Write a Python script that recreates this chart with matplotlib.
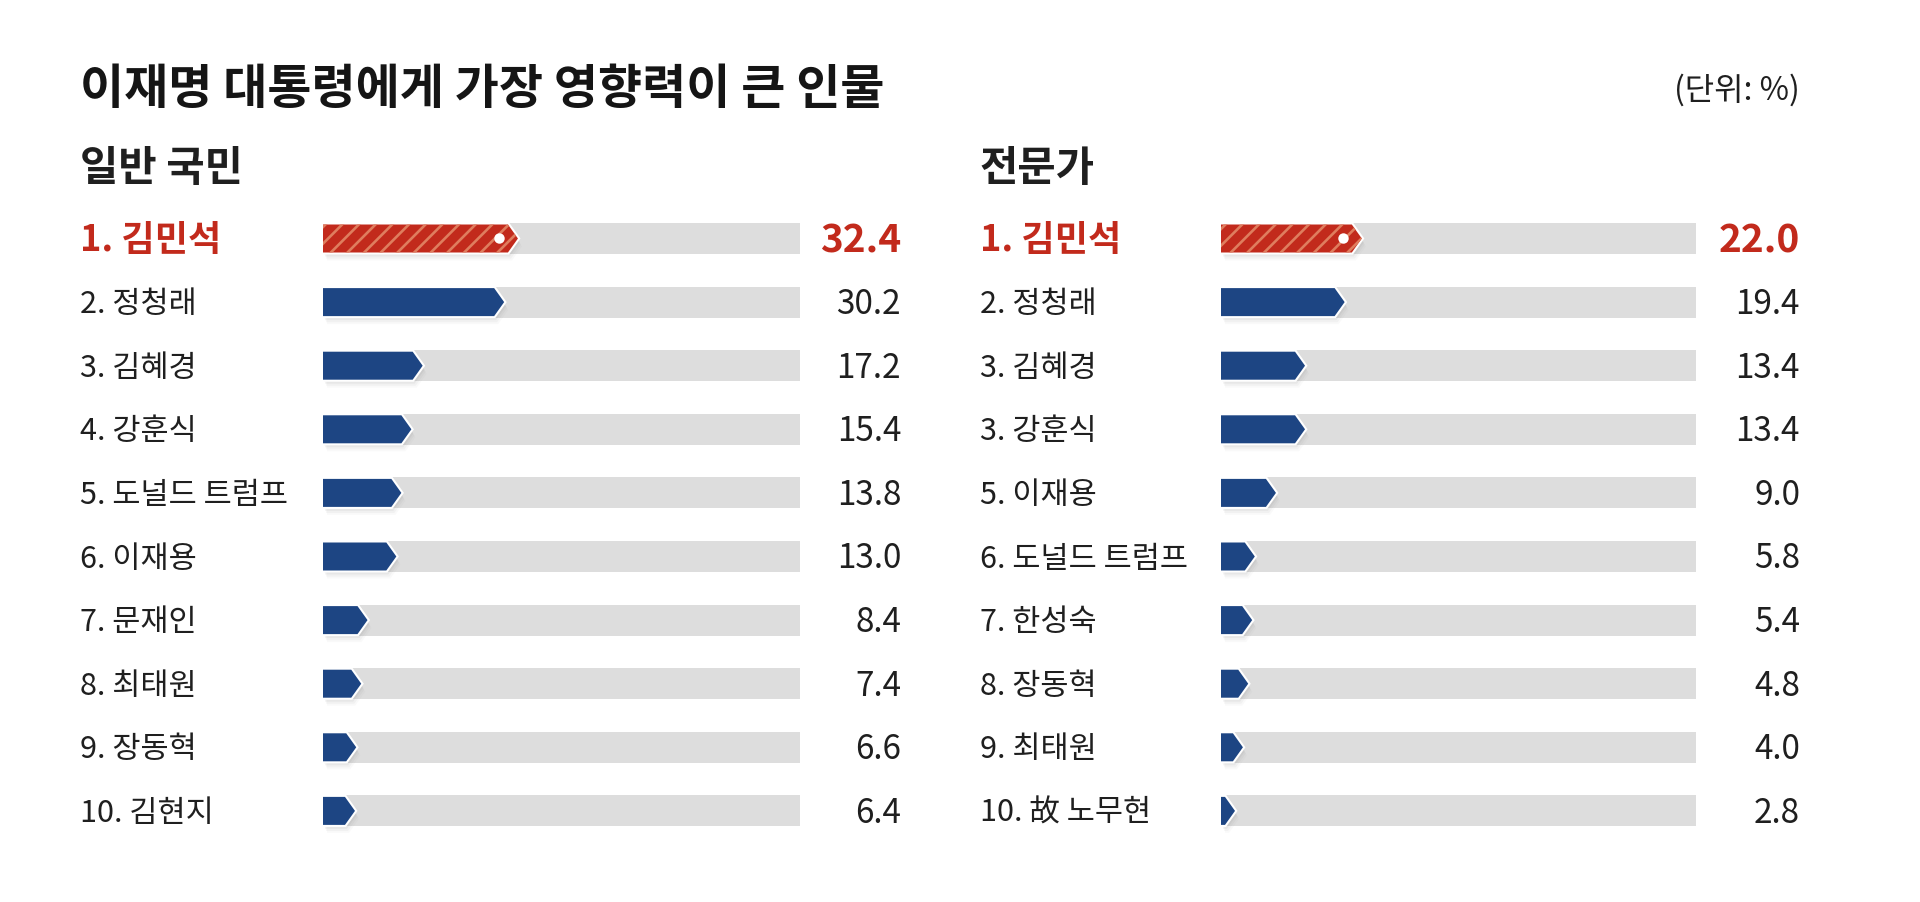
import matplotlib
matplotlib.use("Agg")
import matplotlib.pyplot as plt
from matplotlib.patches import Polygon
from matplotlib.transforms import ScaledTranslation, blended_transform_factory

plt.rcParams['font.family'] = ['Noto Sans CJK KR', 'DejaVu Sans']
plt.rcParams['hatch.linewidth'] = 1.9

# ---------------- data ----------------
title = "이재명 대통령에게 가장 영향력이 큰 인물"
unit_label = "(단위: %)"

left_title = "일반 국민"
left_ranks = ["1", "2", "3", "4", "5", "6", "7", "8", "9", "10"]
left_names = ["김민석", "정청래", "김혜경", "강훈식", "도널드 트럼프",
              "이재용", "문재인", "최태원", "장동혁", "김현지"]
left_values = [32.4, 30.2, 17.2, 15.4, 13.8, 13.0, 8.4, 7.4, 6.6, 6.4]

right_title = "전문가"
right_ranks = ["1", "2", "3", "3", "5", "6", "7", "8", "9", "10"]
right_names = ["김민석", "정청래", "김혜경", "강훈식", "이재용",
               "도널드 트럼프", "한성숙", "장동혁", "최태원", "故 노무현"]
right_values = [22.0, 19.4, 13.4, 13.4, 9.0, 5.8, 5.4, 4.8, 4.0, 2.8]

# ---------------- style ----------------
W, H = 1920, 902
RED = "#c22a1c"
STRIPE = "#df7d5e"
BLUE = "#1d4583"
GREY = "#dddddd"
TXT = "#1f1f1f"

fig = plt.figure(figsize=(W / 100, H / 100), dpi=100)
fig.patch.set_facecolor("white")

ROW0, ROWSTEP = 238.5, 63.6
ax_top = ROW0 - ROWSTEP / 2
ax_bot = ROW0 + 9 * ROWSTEP + ROWSTEP / 2
TXT_DY = 2.5 / ROWSTEP  # nudge text down a little


def make_axes(px_left, px_right, xmin, xmax):
    ax = fig.add_axes([px_left / W, 1 - ax_bot / H,
                       (px_right - px_left) / W, (ax_bot - ax_top) / H])
    ax.set_xlim(xmin, xmax)
    ax.set_ylim(9.5, -0.5)
    ax.axis("off")
    return ax


def draw_panel(ax, px_width, ranks, names, values, label_x, value_x, sub_title):
    xmin, xmax = ax.get_xlim()
    ppu = px_width / (xmax - xmin)          # pixels per data unit
    tip = 10 / ppu                           # arrow tip length
    grey_h = 31 / ROWSTEP
    bar_h = 28 / ROWSTEP
    tr = blended_transform_factory(fig.transFigure, ax.transData)

    rows = list(range(len(values)))
    ax.barh(rows, [xmax - xmin] * len(rows), left=xmin, height=grey_h,
            color=GREY, zorder=1)

    for i, (rk, nm, v) in enumerate(zip(ranks, names, values)):
        x0 = xmin
        x1 = max(v - tip, x0)
        verts = [(x0, i - bar_h / 2), (x1, i - bar_h / 2), (v, i),
                 (x1, i + bar_h / 2), (x0, i + bar_h / 2)]
        for dx, dy, a in [(1, 2, 0.10), (2, 4, 0.08), (3, 6, 0.06), (4, 8, 0.04)]:
            ax.add_patch(Polygon(verts, closed=True, facecolor="#777777", alpha=a,
                                 edgecolor="none",
                                 transform=ax.transData + ScaledTranslation(
                                     dx / 100, -dy / 100, fig.dpi_scale_trans),
                                 zorder=2))
        ax.add_patch(Polygon(verts, closed=True, facecolor="white",
                             edgecolor="white", linewidth=3.0,
                             joinstyle="miter", zorder=3))
        ty = i + TXT_DY
        if i == 0:
            ax.add_patch(Polygon(verts, closed=True, facecolor=RED,
                                 edgecolor=STRIPE, linewidth=0, hatch="//",
                                 zorder=4))
            ax.plot([v - 19 / ppu], [i], marker="o", markersize=7.5,
                    markerfacecolor="white", markeredgecolor="none",
                    zorder=5)
            ax.text(label_x / W, ty, f"{rk}. {nm}", transform=tr,
                    fontsize=26, fontweight="bold", color=RED,
                    ha="left", va="center")
            ax.text(value_x / W, ty, f"{v:.1f}", transform=tr,
                    fontsize=28, fontweight="bold", color=RED,
                    ha="right", va="center")
        else:
            ax.add_patch(Polygon(verts, closed=True, facecolor=BLUE,
                                 edgecolor="none", zorder=4))
            ax.text(label_x / W, ty, f"{rk}. {nm}", transform=tr,
                    fontsize=22, fontweight="medium", color=TXT,
                    ha="left", va="center")
            ax.text(value_x / W, ty, f"{v:.1f}", transform=tr,
                    fontsize=24, fontweight="medium", color=TXT,
                    ha="right", va="center")

    fig.text(label_x / W, 1 - 169 / H, sub_title, fontsize=30,
             fontweight="bold", color=TXT, ha="left", va="center")


axL = make_axes(323, 800, 1.3, 77.4)
axR = make_axes(1221, 1696, 0.68, 72.6)

draw_panel(axL, 800 - 323, left_ranks, left_names, left_values, 80, 901, left_title)
draw_panel(axR, 1696 - 1221, right_ranks, right_names, right_values, 980, 1800, right_title)

fig.text(80 / W, 1 - 90 / H, title, fontsize=34.5, fontweight="bold",
         color="#151515", ha="left", va="center")
fig.text(1800 / W, 1 - 90 / H, unit_label, fontsize=23, fontweight="medium",
         color=TXT, ha="right", va="center")

fig.savefig("out.png", dpi=100, facecolor="white")
